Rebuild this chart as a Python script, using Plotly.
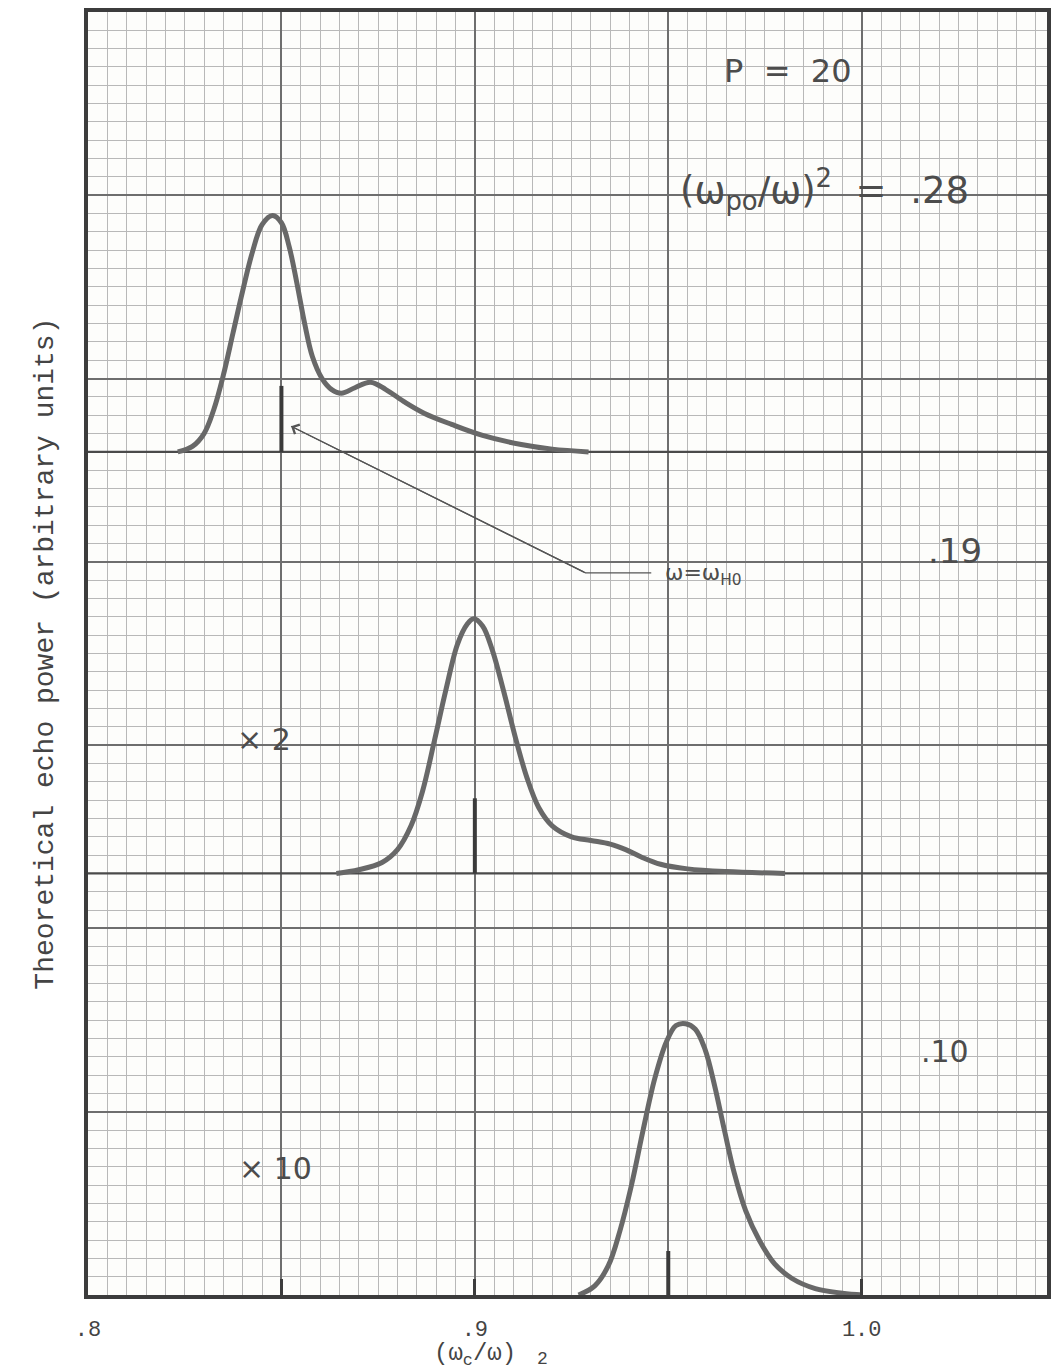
import plotly.graph_objects as go

# ---------------- data (x = omega_c/omega, heights in grid units above each panel baseline)
top_x = [0.8232, 0.8270, 0.8300, 0.8325, 0.8350, 0.8375, 0.8400, 0.8425, 0.8450, 0.8477,
         0.8500, 0.8520, 0.8540, 0.8560, 0.8580, 0.8605, 0.8630, 0.8655, 0.8690, 0.8730,
         0.8770, 0.8820, 0.8870, 0.8940, 0.9020, 0.9120, 0.9200, 0.9294]
top_h = [0.0, 0.3, 1.0, 2.3, 4.2, 6.5, 8.8, 10.9, 12.4, 12.9,
         12.5, 11.2, 9.2, 7.0, 5.2, 4.0, 3.4, 3.2, 3.5, 3.8,
         3.4, 2.7, 2.1, 1.5, 0.9, 0.4, 0.15, 0.0]

mid_x = [0.8642, 0.8700, 0.8760, 0.8800, 0.8835, 0.8865, 0.8895, 0.8925, 0.8955, 0.8980,
         0.8997, 0.9020, 0.9045, 0.9075, 0.9105, 0.9135, 0.9165, 0.9200, 0.9250, 0.9300,
         0.9350, 0.9390, 0.9430, 0.9480, 0.9550, 0.9650, 0.9802]
mid_h = [0.0, 0.2, 0.6, 1.3, 2.6, 4.5, 7.2, 10.0, 12.5, 13.6,
         13.9, 13.5, 12.2, 9.9, 7.4, 5.2, 3.6, 2.6, 2.0, 1.8,
         1.6, 1.3, 0.9, 0.5, 0.25, 0.1, 0.0]

bot_x = [0.9268, 0.9310, 0.9345, 0.9375, 0.9405, 0.9435, 0.9465, 0.9495, 0.9520, 0.9545,
         0.9570, 0.9595, 0.9620, 0.9645, 0.9670, 0.9700, 0.9735, 0.9775, 0.9820, 0.9880,
         0.9950, 1.0003]
bot_h = [0.0, 0.5, 1.6, 3.5, 6.0, 9.0, 11.8, 13.8, 14.7, 14.8,
         14.5, 13.4, 11.4, 9.0, 6.7, 4.6, 3.0, 1.7, 0.9, 0.35,
         0.1, 0.0]

baselines = [46, 23, 0]                 # panel baselines (grid units)
panel_labels = [".28", ".19", ".10"]
scale_labels = ["", "× 2", "× 10"]
marker_x = [0.85, 0.90, 0.95]           # omega = omega_H0 positions
marker_h = [3.6, 4.1, 2.4]

x_tickvals = [0.8, 0.85, 0.9, 0.95, 1.0]
x_ticktext = [".8", "", ".9", "", "1.0"]

arrow_x = [0.9456, 0.9286, 0.8525]
arrow_y = [39.4, 39.4, 47.4]

X_RANGE = [0.8, 1.0479]
Y_RANGE = [0, 70]

CURVE = "#686868"
INK = "#4c4c4c"

fig = go.Figure()

# anchor trace for the overlaid (major-grid) axes
fig.add_trace(go.Scatter(x=[0.8], y=[0], xaxis="x2", yaxis="y2", mode="markers",
                         marker=dict(opacity=0), hoverinfo="skip"))

# baselines of upper panels
for b in baselines[:2]:
    fig.add_trace(go.Scatter(x=X_RANGE, y=[b, b], mode="lines",
                             line=dict(color="#4a4a4a", width=2.2), hoverinfo="skip"))

curves = [(top_x, top_h), (mid_x, mid_h), (bot_x, bot_h)]
for (xs, hs), b in zip(curves, baselines):
    fig.add_trace(go.Scatter(x=xs, y=[b + h for h in hs], mode="lines",
                             line=dict(color=CURVE, width=5, shape="spline", smoothing=1.0),
                             hoverinfo="skip"))

for mx, mh, b in zip(marker_x, marker_h, baselines):
    fig.add_trace(go.Scatter(x=[mx, mx], y=[b, b + mh], mode="lines",
                             line=dict(color="#3a3a3a", width=4), hoverinfo="skip"))

fig.add_trace(go.Scatter(x=arrow_x, y=arrow_y, mode="lines",
                         line=dict(color="#555", width=1.3), hoverinfo="skip"))

hand = dict(family="DejaVu Sans", color=INK)
ann = []
ann.append(dict(x=arrow_x[-1], y=arrow_y[-1], ax=arrow_x[1], ay=arrow_y[1],
                xref="x", yref="y", axref="x", ayref="y", text="", showarrow=True,
                arrowhead=4, arrowsize=1.6, arrowwidth=1.3, arrowcolor="#555"))
ann.append(dict(x=0.9487, y=39.3, xref="x", yref="y", xanchor="left", yanchor="middle",
                text="ω=ω<sub>H0</sub>", showarrow=False,
                font=dict(family="DejaVu Sans", size=22, color=INK)))
ann.append(dict(x=0.9809, y=66.8, xref="x", yref="y", text="P  =  20", showarrow=False,
                font=dict(size=32, **hand)))
ann.append(dict(x=0.9905, y=60.3, xref="x", yref="y",
                text="(ω<sub>po</sub>/ω)<sup>2</sup>  =  " + panel_labels[0], showarrow=False,
                font=dict(size=37, **hand)))
ann.append(dict(x=1.024, y=40.6, xref="x", yref="y", text=panel_labels[1], showarrow=False,
                font=dict(size=34, **hand)))
ann.append(dict(x=1.0216, y=13.3, xref="x", yref="y", text=panel_labels[2], showarrow=False,
                font=dict(size=30, **hand)))
ann.append(dict(x=0.8456, y=30.3, xref="x", yref="y", text=scale_labels[1], showarrow=False,
                font=dict(size=30, **hand)))
ann.append(dict(x=0.8485, y=6.9, xref="x", yref="y", text=scale_labels[2], showarrow=False,
                font=dict(size=30, **hand)))

mono = dict(family="Liberation Mono", color="#444")
ann.append(dict(x=0.9, y=-0.047, xref="x", yref="paper", yanchor="middle",
                text="(ω<sub>c</sub>/ω)", showarrow=False, font=dict(size=24, **mono)))
ann.append(dict(x=0.9175, y=-0.0591, xref="x", yref="paper", yanchor="bottom",
                text="2", showarrow=False, font=dict(size=18, **mono)))
ann.append(dict(x=-0.0447, y=0.5, xref="paper", yref="paper", xanchor="center",
                yanchor="middle", textangle=-90,
                text="Theoretical echo power (arbitrary units)", showarrow=False,
                font=dict(size=28, **mono)))

fig.update_layout(
    width=1059, height=1371,
    margin=dict(l=88, r=9, t=8, b=76),
    paper_bgcolor="white", plot_bgcolor="#fdfdfb",
    showlegend=False, annotations=ann,
    # minor grid on the primary axes
    xaxis=dict(range=X_RANGE, tickmode="linear", tick0=0.8, dtick=0.005,
               showgrid=True, gridcolor="#b8b8b8", gridwidth=1,
               showline=True, linecolor="#3c3c3c", linewidth=3.5, mirror=True,
               showticklabels=False, ticks="", zeroline=False),
    yaxis=dict(range=Y_RANGE, tickmode="linear", tick0=0, dtick=1,
               showgrid=True, gridcolor="#b8b8b8", gridwidth=1,
               showline=True, linecolor="#3c3c3c", linewidth=3.5, mirror=True,
               showticklabels=False, ticks="", zeroline=False),
    # major grid + labels on overlaid axes
    xaxis2=dict(range=X_RANGE, overlaying="x", side="bottom", anchor="y2",
                tickmode="array", tickvals=x_tickvals, ticktext=x_ticktext,
                showgrid=True, gridcolor="#6e6e6e", gridwidth=1.6,
                ticks="inside", ticklen=16, tickwidth=3, tickcolor="#3c3c3c",
                tickfont=dict(size=22, **mono), ticklabelstandoff=18,
                showline=False, zeroline=False),
    yaxis2=dict(range=Y_RANGE, overlaying="y", side="left", anchor="x2",
                tickmode="linear", tick0=0, dtick=10,
                showgrid=True, gridcolor="#6e6e6e", gridwidth=1.6,
                showticklabels=False, ticks="", showline=False, zeroline=False),
)

fig.write_html("out.html")
